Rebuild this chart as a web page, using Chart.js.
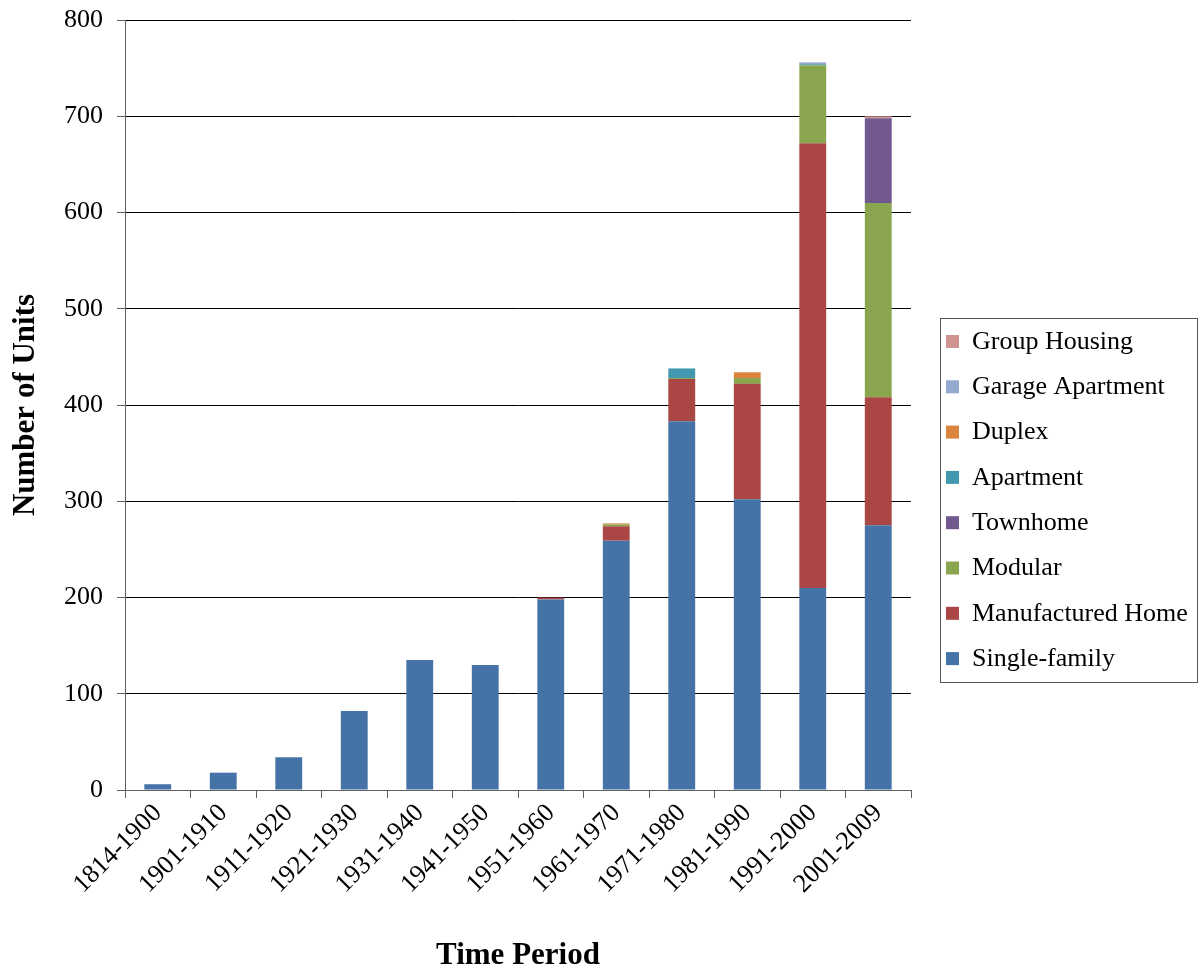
<!DOCTYPE html>
<html>
<head>
<meta charset="utf-8">
<script src="https://cdn.jsdelivr.net/npm/chart.js@4/dist/chart.umd.min.js"></script>
<style>
  html, body { margin: 0; padding: 0; background: #fff; }
  #wrap { width: 1200px; height: 971px; }
</style>
</head>
<body>
<div id="wrap"><canvas id="c" width="1200" height="971"></canvas></div>
<script>
// Housing units by construction period and type
const periods = ["1814-1900", "1901-1910", "1911-1920", "1921-1930", "1931-1940", "1941-1950",
                 "1951-1960", "1961-1970", "1971-1980", "1981-1990", "1991-2000", "2001-2009"];
const singleFamily    = [6, 18, 34, 82, 135, 130, 198, 259, 383, 302, 210, 275];
const manufactured    = [0, 0, 0, 0, 0, 0, 2, 15, 44, 120, 462, 133];
const modular         = [0, 0, 0, 0, 0, 0, 0, 2, 1, 6, 81, 202];
const townhome        = [0, 0, 0, 0, 0, 0, 0, 0, 0, 0, 0, 88];
const apartment       = [0, 0, 0, 0, 0, 0, 0, 0, 10, 0, 1, 0];
const duplex          = [0, 0, 0, 0, 0, 0, 0, 1, 0, 6, 0, 0];
const garageApartment = [0, 0, 0, 0, 0, 0, 0, 0, 0, 0, 2, 0];
const groupHousing    = [0, 0, 0, 0, 0, 0, 0, 0, 0, 0, 0, 2];
const yTicks = [0, 100, 200, 300, 400, 500, 600, 700, 800];

const series = [
  ["Single-family", singleFamily, "#4572A7"],
  ["Manufactured Home", manufactured, "#AA4643"],
  ["Modular", modular, "#89A54E"],
  ["Townhome", townhome, "#71588F"],
  ["Apartment", apartment, "#4198AF"],
  ["Duplex", duplex, "#DB843D"],
  ["Garage Apartment", garageApartment, "#93A9CF"],
  ["Group Housing", groupHousing, "#D19392"]
];

const SERIF = "'Liberation Serif', 'DejaVu Serif', serif";

// Boxed legend on the right, last series on top
const boxLegend = {
  id: "boxLegend",
  afterDraw(chart) {
    const ctx = chart.ctx;
    const x0 = 940, y0 = 318, w = 257, h = 364;
    ctx.save();
    ctx.strokeStyle = "#555";
    ctx.lineWidth = 1;
    ctx.strokeRect(x0 + 0.5, y0 + 0.5, w, h);
    ctx.font = "26px " + SERIF;
    ctx.textBaseline = "middle";
    const ds = chart.data.datasets.slice().reverse();
    ds.forEach((d, i) => {
      const cy = y0 + 23 + i * 45.3;
      ctx.fillStyle = d.backgroundColor;
      ctx.fillRect(x0 + 6, cy - 6, 13, 13);
      ctx.fillStyle = "#000";
      ctx.fillText(d.label, x0 + 32, cy + 1);
    });
    ctx.restore();
  }
};

new Chart(document.getElementById("c"), {
  type: "bar",
  data: {
    labels: periods,
    datasets: series.map(([label, data, color]) => ({
      label, data,
      backgroundColor: color,
      borderWidth: 0,
      barPercentage: 0.41,
      categoryPercentage: 1.0
    }))
  },
  options: {
    responsive: false,
    animation: false,
    devicePixelRatio: 1,
    layout: { padding: { top: 20, right: 289, left: 0, bottom: 0 } },
    plugins: { legend: { display: false }, tooltip: { enabled: false } },
    scales: {
      x: {
        stacked: true,
        offset: true,
        grid: { display: true, drawOnChartArea: false, offset: true, tickLength: 8, color: "#606060" },
        border: { color: "#606060", width: 1 },
        ticks: {
          color: "#000",
          font: { family: SERIF, size: 26 },
          maxRotation: 45, minRotation: 45, autoSkip: false, padding: 0
        },
        title: {
          display: true, text: "Time Period", color: "#000",
          font: { family: SERIF, size: 31, weight: "bold", lineHeight: 1 },
          padding: { top: 0, bottom: 0 }
        },
        afterFit(scale) { scale.height = 181; }
      },
      y: {
        stacked: true,
        min: 0, max: 800,
        afterBuildTicks(scale) { scale.ticks = yTicks.map(v => ({ value: v })); },
        grid: { color: "#000", lineWidth: 1, tickLength: 8, tickColor: "#606060" },
        border: { color: "#606060", width: 1 },
        ticks: { color: "#000", font: { family: SERIF, size: 26, lineHeight: 1 }, padding: 14 },
        title: {
          display: true, text: "Number of Units", color: "#000",
          font: { family: SERIF, size: 31, weight: "bold", lineHeight: 1 },
          padding: { top: 10, bottom: 0 }
        },
        afterFit(scale) {
          scale.width = 125;
          scale.paddingTop = 0;
          scale.paddingBottom = 0;
        }
      }
    }
  },
  plugins: [boxLegend]
});
</script>
</body>
</html>
